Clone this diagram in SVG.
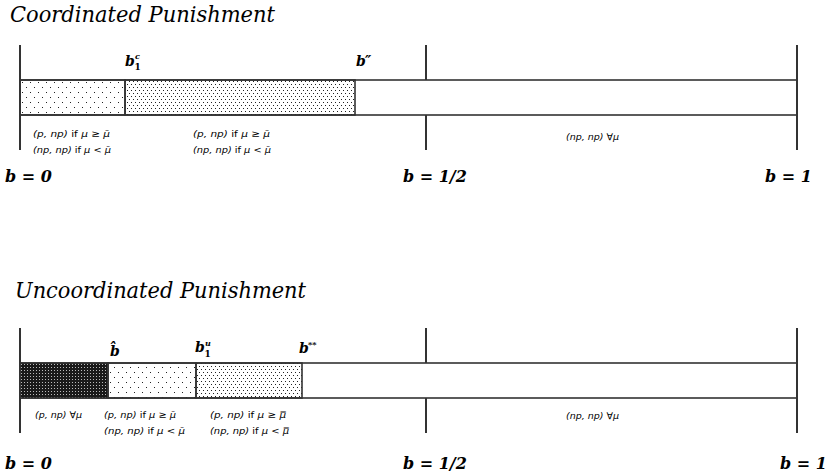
<svg xmlns="http://www.w3.org/2000/svg" width="828" height="473" viewBox="0 0 828 473">
<defs>
<pattern id="sparse" patternUnits="userSpaceOnUse" width="8" height="10" x="20" y="80">
<rect x="2" y="2" width="1" height="1" fill="#222"/>
<rect x="6" y="7" width="1" height="1" fill="#222"/>
</pattern>
<pattern id="dense" patternUnits="userSpaceOnUse" width="4" height="6" x="0" y="80">
<rect x="1" y="1" width="1" height="1" fill="#222"/>
<rect x="3" y="4" width="1" height="1" fill="#222"/>
</pattern>
<pattern id="dark" patternUnits="userSpaceOnUse" width="3" height="3" x="20" y="363">
<rect width="3" height="3" fill="#1a1a1a"/>
<rect x="1" y="1" width="1" height="1" fill="#bbb"/>
</pattern>
<style>
.title{font-family:"DejaVu Serif",serif;font-style:italic;font-size:22px;fill:#000}
.ax{stroke:#333;stroke-width:2;fill:none}
.bar{stroke:#333;stroke-width:1.6}
.lbl{font-family:"DejaVu Serif",serif;font-style:italic;font-weight:bold;font-size:14px;fill:#000}
.sup{font-family:"DejaVu Serif",serif;font-style:italic;font-weight:bold;font-size:8px;fill:#000}
.sub{font-family:"DejaVu Serif",serif;font-weight:bold;font-size:9px;fill:#000}
.end{font-family:"DejaVu Serif",serif;font-style:italic;font-weight:bold;font-size:16px;fill:#000}
.sm{font-family:"DejaVu Sans",sans-serif;font-style:italic;font-size:9.5px;fill:#000}
.up{font-style:normal}
</style>
</defs>

<g id="top">
<text class="title" x="10" y="22" textLength="265" lengthAdjust="spacingAndGlyphs">Coordinated Punishment</text>
<g id="top-bar">
<rect x="20" y="80" width="777" height="35" fill="#fff" class="bar"/>
<rect x="20" y="80" width="105" height="35" fill="url(#sparse)" class="bar"/>
<rect x="125" y="80" width="230" height="35" fill="url(#dense)" class="bar"/>
</g>
<g id="top-axes">
<line class="ax" x1="20" y1="45" x2="20" y2="150"/>
<line class="ax" x1="426" y1="45" x2="426" y2="80"/>
<line class="ax" x1="426" y1="115" x2="426" y2="150"/>
<line class="ax" x1="797" y1="45" x2="797" y2="150"/>
</g>
<g id="top-labels">
<text class="lbl" x="125" y="66">b</text>
<text class="sup" x="135" y="59">c</text>
<text class="sub" x="134.5" y="70">1</text>
<text class="lbl" x="356" y="66">b</text>
<text class="lbl" x="365" y="66" font-size="13" font-style="normal">″</text>
<text class="sm" x="33" y="137" textLength="77" lengthAdjust="spacingAndGlyphs">(p, np) <tspan class="up">if</tspan> μ ≥ μ̄</text>
<text class="sm" x="33" y="153" textLength="78" lengthAdjust="spacingAndGlyphs">(np, np) <tspan class="up">if</tspan> μ &lt; μ̄</text>
<text class="sm" x="193" y="137" textLength="77" lengthAdjust="spacingAndGlyphs">(p, np) <tspan class="up">if</tspan> μ ≥ μ̄</text>
<text class="sm" x="193" y="153" textLength="78" lengthAdjust="spacingAndGlyphs">(np, np) <tspan class="up">if</tspan> μ &lt; μ̄</text>
<text class="sm" x="566" y="140">(np, np)  ∀μ</text>
<text class="end" x="5" y="182">b = 0</text>
<text class="end" x="403" y="182">b = 1/2</text>
<text class="end" x="765" y="182">b = 1</text>
</g>
</g>

<g id="bottom">
<text class="title" x="15" y="298" textLength="291" lengthAdjust="spacingAndGlyphs">Uncoordinated Punishment</text>
<g id="bottom-bar">
<rect x="20" y="363" width="777" height="35" fill="#fff" class="bar"/>
<rect x="20" y="363" width="88" height="35" fill="url(#dark)" class="bar"/>
<rect x="108" y="363" width="88" height="35" fill="url(#sparse)" class="bar"/>
<rect x="196" y="363" width="106" height="35" fill="url(#dense)" class="bar"/>
</g>
<g id="bottom-axes">
<line class="ax" x1="20" y1="328" x2="20" y2="433"/>
<line class="ax" x1="426" y1="328" x2="426" y2="363"/>
<line class="ax" x1="426" y1="398" x2="426" y2="433"/>
<line class="ax" x1="797" y1="328" x2="797" y2="433"/>
</g>
<g id="bottom-labels">
<text class="lbl" x="110" y="356">b̂</text>
<text class="lbl" x="195" y="352">b</text>
<text class="sup" x="205" y="346">u</text>
<text class="sub" x="204.5" y="357">1</text>
<text class="lbl" x="299" y="353">b</text>
<text class="sup" x="308" y="347">**</text>
<text class="sm" x="35" y="418">(p, np)  ∀μ</text>
<text class="sm" x="104" y="418" textLength="72" lengthAdjust="spacingAndGlyphs">(p, np) <tspan class="up">if</tspan> μ ≥ μ̄</text>
<text class="sm" x="104" y="434" textLength="81" lengthAdjust="spacingAndGlyphs">(np, np) <tspan class="up">if</tspan> μ &lt; μ̄</text>
<text class="sm" x="210" y="418" textLength="76" lengthAdjust="spacingAndGlyphs">(p, np) <tspan class="up">if</tspan> μ ≥ μ̿</text>
<text class="sm" x="210" y="434" textLength="79" lengthAdjust="spacingAndGlyphs">(np, np) <tspan class="up">if</tspan> μ &lt; μ̿</text>
<text class="sm" x="566" y="419">(np, np)  ∀μ</text>
<text class="end" x="5" y="469">b = 0</text>
<text class="end" x="403" y="469">b = 1/2</text>
<text class="end" x="780" y="469">b = 1</text>
</g>
</g>
</svg>
